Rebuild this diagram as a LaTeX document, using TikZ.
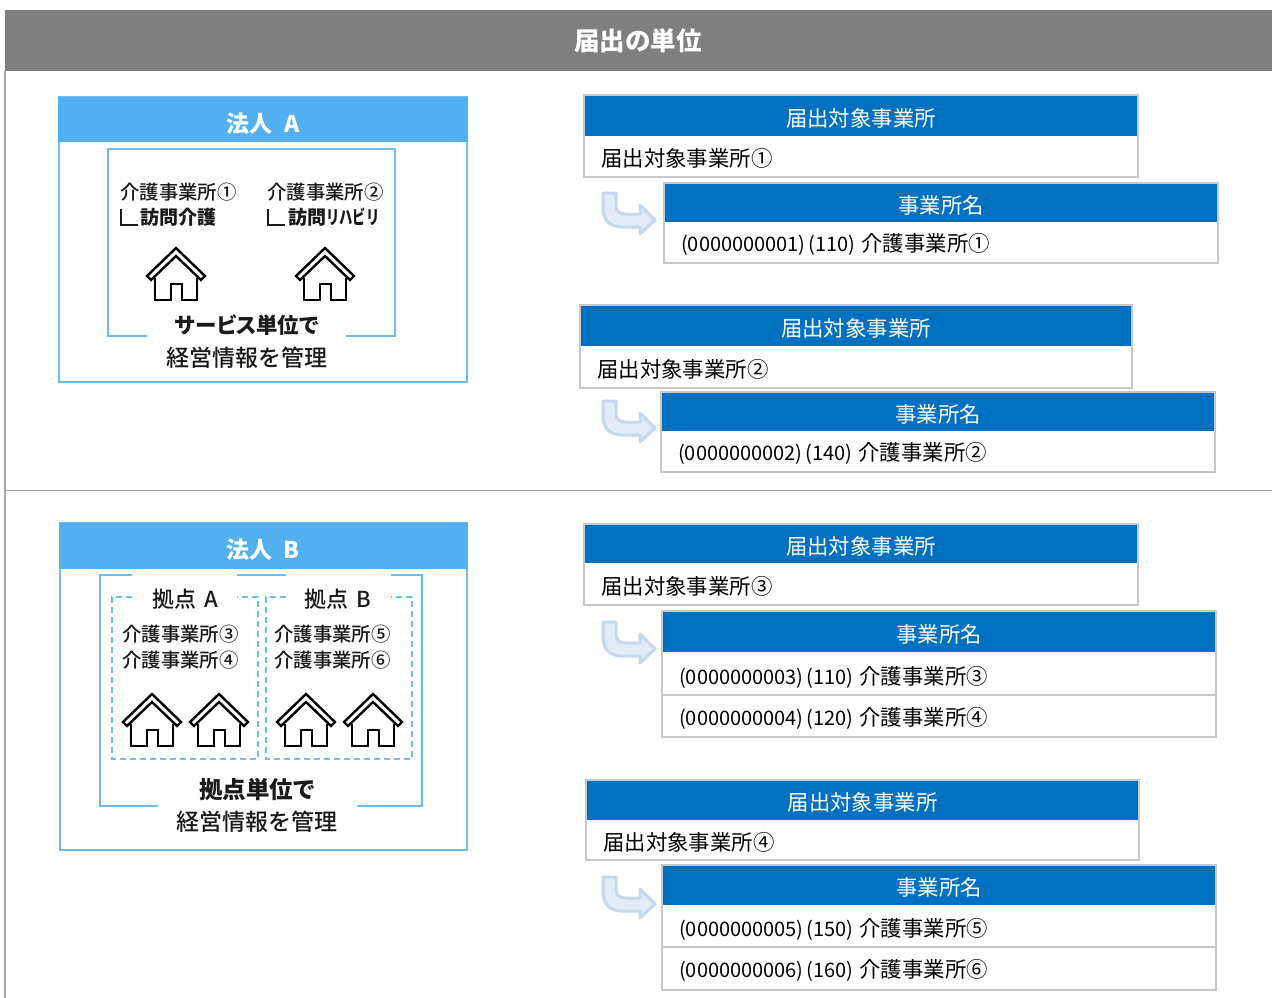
\documentclass[tikz,border=0pt]{standalone}
\usepackage{fontspec}
\setmainfont{Noto Sans CJK JP}
\newfontfamily\jpmed{Noto Sans CJK JP Medium}
\definecolor{titlegray}{HTML}{7F7F7F}
\definecolor{rulegray}{HTML}{A6A6A6}
\definecolor{tblgray}{HTML}{C8C8C8}
\definecolor{tblblue}{HTML}{0070C0}
\definecolor{skyhead}{HTML}{53B0F0}
\definecolor{skyline}{HTML}{6CBBF2}
\definecolor{arrowout}{HTML}{C5D8F0}
\definecolor{arrowin}{HTML}{E2ECF8}
\definecolor{inkdark}{HTML}{1A1A1A}
\newcommand{\fs}[1]{\fontsize{#1}{#1}\selectfont}
\newcommand{\kana}{\addfontfeature{RawFeature=+palt}}
\tikzset{
  x=1pt,y=-1pt,
  tblframe/.style={draw=tblgray,line width=2.4pt,fill=white},
  tblhead/.style={fill=tblblue},
  headtext/.style={text=white,inner sep=0pt,font=\fs{21.4}},
  celltext/.style={text=black,inner sep=0pt,anchor=west,font=\fs{21.4}},
  rowline/.style={draw=tblgray,line width=2.4pt},
  skyframe/.style={draw=skyline,line width=2pt},
  dashframe/.style={draw=skyline,line width=1.8pt,dash pattern=on 6pt off 4pt},
  skybar/.style={fill=skyhead},
  skytext/.style={text=white,inner sep=0pt,font=\fs{23}\bfseries},
  lefttext/.style={text=inkdark,inner sep=0pt,anchor=west,font=\jpmed\fs{19.4}},
  bigtext/.style={text=inkdark,inner sep=0pt,font=\jpmed\fs{23}},
  strongtext/.style={text=inkdark,inner sep=0pt,font=\fs{23.5}\bfseries\kana},
  tickmark/.style={draw=inkdark,line width=1.8pt},
  house/.pic={
    \draw[black,line width=2.8pt,line join=miter,fill=white]
      (-21,30)--(-21,52)--(-5,52)--(-5,36)--(6,36)--(6,52)--(21,52)--(21,30);
    \draw[black,line width=2.4pt,line join=miter,fill=white]
      (0,0)--(29,28)--(25,32)--(0,8)--(-25,32)--(-29,28)--cycle;
  },
  elbow/.pic={
    \draw[draw=arrowout,fill=arrowin,line width=3pt,line join=round]
      (1,1)--(14,1)--(14,14) .. controls (14,20) and (18,22) .. (24,22)
      --(38,22)--(38,13)--(53,28)--(38,42)--(38,35)--(20,35)
      .. controls (8,35) and (1,28) .. (1,16)--cycle;
  }
}
% name, x0, y0, x1, yhead, ybody, title, bodytext
\newcommand{\parenttbl}[8]{
  \path[tblframe] (#2,#3-1) rectangle (#4,#6);
  \path[tblhead] (#2+1,#3) rectangle (#4-1,#5);
  \node[headtext] (#1h) at ({(#2+#4)/2},{(#3+#5)/2+2}) {#7};
  \node[celltext] (#1c) at (#2+17,{(#5+#6)/2+2}) {#8};
}
\newcommand{\idtext}[3]{{\fs{20}(#1)\hspace{3pt}(#2)}\hspace{6pt}#3}
\begin{document}
\begin{tikzpicture}
\useasboundingbox (0,0) rectangle (1272,998);
\fill[white] (0,0) rectangle (1272,998);
% title band and rules
\fill[titlegray] (5,10) rectangle (1272,71);
\node[text=white,inner sep=0pt,font=\fs{25.5}\bfseries] (title) at (638,40.5) {届出の単位};
\draw[rulegray,line width=1.2pt] (5,71)--(5,998);
\draw[rulegray,line width=1.2pt] (5,490.5)--(1272,490.5);

% corporation A
\draw[skyframe,fill=white] (58.5,97)rectangle(467,381.5);
\fill[skybar] (57.5,97) rectangle (468,142);
\node[skytext] (corpA) at (263,123.5) {法人\hspace{12pt}A};
\draw[skyframe] (147,336)--(107.5,336)--(107.5,148.5)--(395,148.5)--(395,336)--(346,336);
\node[lefttext] (a1) at (120,192) {介護事業所①};
\node[lefttext] (a2) at (267,192) {介護事業所②};
\draw[tickmark] (121,209)--(121,225)--(138,225);
\draw[tickmark] (268,209)--(268,225)--(285,225);
\node[lefttext,font=\fs{19}\bfseries] (a3) at (140,217) {訪問介護};
\node[lefttext,font=\fs{19}\bfseries] (a4) at (288,217) {訪問\scalebox{0.7}[1]{リハビリ}};
\pic at (176,248) {house};
\pic at (325,248) {house};
\node[strongtext,font=\fs{21.5}\bfseries\kana] (a5) at (247,325.5) {サービス単位で};
\node[bigtext] (a6) at (247,357.5) {経営情報を管理};

% corporation B
\draw[skyframe,fill=white] (60,523)rectangle(467,850);
\fill[skybar] (59,523) rectangle (468,569);
\node[skytext] (corpB) at (263,549.5) {法人\hspace{12pt}B};
\draw[skyframe] (158,805.5)--(99.5,805.5)--(99.5,575)--(132,575);
\draw[skyframe] (237,575)--(286,575);
\draw[skyframe] (391,575)--(421.5,575)--(421.5,805.5)--(357,805.5);
\draw[dashframe] (132,597)--(112,597)--(112,759)--(258,759)--(258,597)--(237,597);
\draw[dashframe] (286,597)--(266,597)--(266,759)--(412,759)--(412,597)--(391,597);
\node[bigtext,font=\jpmed\fs{22}] (b1) at (185,599.5) {拠点\hspace{8pt}A};
\node[bigtext,font=\jpmed\fs{22}] (b2) at (338,599.5) {拠点\hspace{8pt}B};
\node[lefttext] (b3) at (122,634) {介護事業所③};
\node[lefttext] (b4) at (122,660) {介護事業所④};
\node[lefttext] (b5) at (274,634) {介護事業所⑤};
\node[lefttext] (b6) at (274,660) {介護事業所⑥};
\pic at (152,694) {house};
\pic at (219,694) {house};
\pic at (306,694) {house};
\pic at (373,694) {house};
\node[strongtext] (b7) at (257,789.5) {拠点単位で};
\node[bigtext] (b8) at (257,821.5) {経営情報を管理};

% table set 1
\parenttbl{p1}{584}{96}{1138}{136}{177}{届出対象事業所}{届出対象事業所①}
\pic at (602,192) {elbow};
\parenttbl{c1}{664}{184}{1218}{222}{263}{事業所名}{\idtext{0000000001}{110}{介護事業所①}}
% table set 2
\parenttbl{p2}{580}{306}{1132}{346}{388}{届出対象事業所}{届出対象事業所②}
\pic at (602,400) {elbow};
\parenttbl{c2}{661}{393}{1215}{431}{472}{事業所名}{\idtext{0000000002}{140}{介護事業所②}}
% table set 3
\parenttbl{p3}{584}{525}{1138}{563}{605}{届出対象事業所}{届出対象事業所③}
\pic at (602,621) {elbow};
\parenttbl{c3}{662}{612}{1216}{652}{737}{事業所名}{}
\draw[rowline] (662,695)--(1216,695);
\node[celltext] (c3a) at (679,677) {\idtext{0000000003}{110}{介護事業所③}};
\node[celltext] (c3b) at (679,718) {\idtext{0000000004}{120}{介護事業所④}};
% table set 4
\parenttbl{p4}{586}{781}{1139}{820}{860}{届出対象事業所}{届出対象事業所④}
\pic at (602,876) {elbow};
\parenttbl{c4}{662}{866}{1216}{905}{990}{事業所名}{}
\draw[rowline] (662,947)--(1216,947);
\node[celltext] (c4a) at (679,929) {\idtext{0000000005}{150}{介護事業所⑤}};
\node[celltext] (c4b) at (679,970) {\idtext{0000000006}{160}{介護事業所⑥}};
\end{tikzpicture}
\end{document}
